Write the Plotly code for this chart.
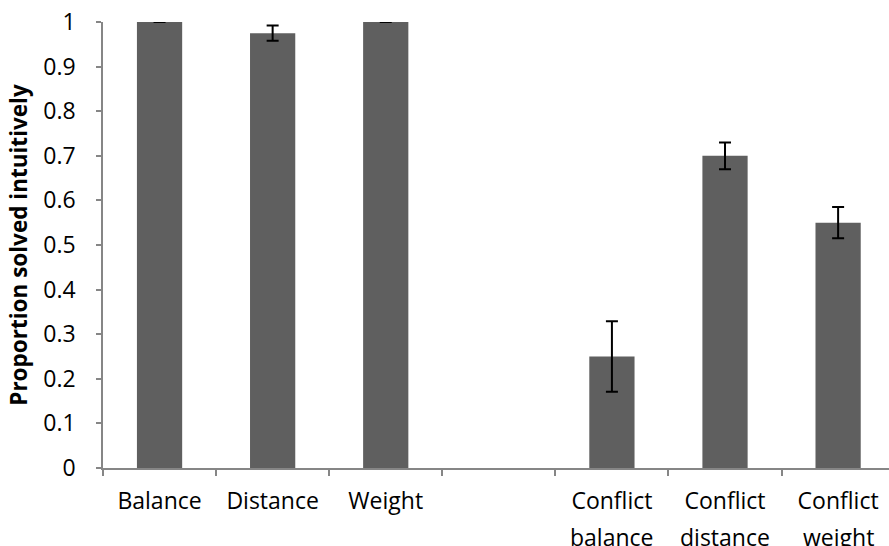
import plotly.graph_objects as go

# Task conditions; the blank entry leaves a gap between the two groups
categories = ["Balance", "Distance", "Weight", " ", "Conflict balance", "Conflict distance", "Conflict weight"]
first_line = ["Balance", "Distance", "Weight", "", "Conflict", "Conflict", "Conflict"]
second_line = ["", "", "", "", "balance", "distance", "weight"]
proportion = [1.0, 0.975, 1.0, None, 0.25, 0.70, 0.55]
error = [None, 0.017, None, None, 0.079, 0.030, 0.035]

AXIS_GREY = "#868686"
FONT = "Open Sans"
LABEL_SIZE = 23

fig = go.Figure(
    go.Bar(
        x=categories,
        y=proportion,
        marker=dict(color="#5f5f5f", line=dict(width=0)),
        error_y=dict(type="data", array=[e if e is not None else 0 for e in error],
                     visible=True, color="black", thickness=2, width=6),
        showlegend=False,
    )
)

# second line of the two-line category labels
for cat, word in zip(categories, second_line):
    if word:
        fig.add_annotation(x=cat, y=0, xref="x", yref="y", text=word, showarrow=False,
                           yshift=-69, yanchor="middle",
                           font=dict(family=FONT, size=LABEL_SIZE, color="black"))

fig.update_layout(
    width=889,
    height=546,
    margin=dict(l=103, r=0, t=22, b=78),
    plot_bgcolor="white",
    paper_bgcolor="white",
    bargap=0.6,
    font=dict(family=FONT, size=LABEL_SIZE, color="black"),
    xaxis=dict(
        type="category",
        categoryorder="array",
        categoryarray=categories,
        range=[-0.5, 6.45],
        tickmode="array",
        tickvals=categories,
        ticktext=first_line,
        tickson="boundaries",
        ticks="outside",
        ticklen=6,
        tickwidth=1.5,
        tickcolor=AXIS_GREY,
        showline=True,
        linecolor=AXIS_GREY,
        linewidth=1.5,
        showgrid=False,
        zeroline=False,
        ticklabelstandoff=12,
        tickfont=dict(family=FONT, size=LABEL_SIZE, color="black"),
    ),
    yaxis=dict(
        range=[0, 1],
        tick0=0,
        dtick=0.1,
        ticks="outside",
        ticklen=5,
        tickwidth=1.5,
        tickcolor=AXIS_GREY,
        showline=True,
        linecolor=AXIS_GREY,
        linewidth=1.5,
        showgrid=False,
        zeroline=False,
        ticklabelstandoff=16,
        tickfont=dict(family=FONT, size=LABEL_SIZE, color="black"),
        title=dict(text="<b>Proportion solved intuitively</b>",
                   font=dict(family=FONT, size=22.5, color="black"), standoff=9),
    ),
)

fig.write_html("out.html")
